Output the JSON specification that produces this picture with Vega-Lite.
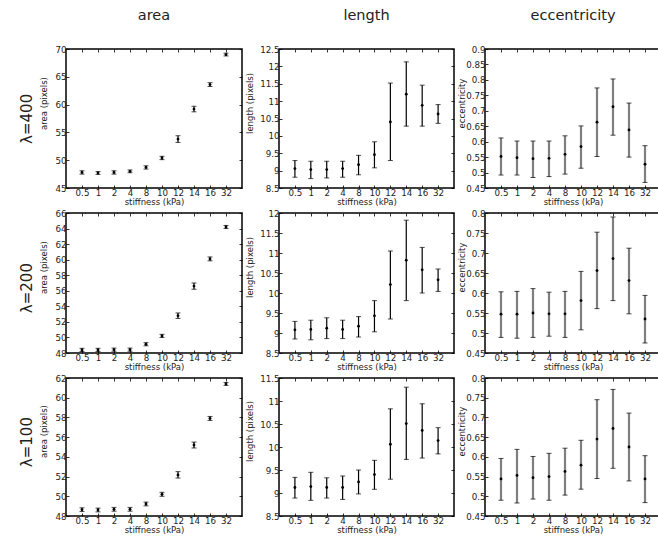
{
"$schema": "https://vega.github.io/schema/vega-lite/v6.json",
"padding": {"left": 20, "top": 6, "right": 0, "bottom": 0},
"autosize": {"type": "pad"},
"background": "white",
"config": {
  "font": "DejaVu Sans",
  "view": {"stroke": "black", "strokeWidth": 1.5},
  "axis": {"domain": false, "grid": false, "tickSize": -3, "tickColor": "black", "tickWidth": 0.8, "labelFontSize": 8.7, "labelColor": "#222", "titleFontSize": 8.5, "titleFontWeight": "normal", "titleColor": "#222", "labelOverlap": false, "labelPadding": 3, "labelAngle": 0, "format": "~g"},
  "title": {"fontWeight": "normal", "color": "#222", "font": "DejaVu Sans"},
  "concat": {"spacing": 0}
},
"datasets": {"d": [
{"l":400,"m":"area","s":"0.5","v":47.8,"lo":47.5,"hi":48.1},
{"l":400,"m":"area","s":"1","v":47.7,"lo":47.45,"hi":47.95},
{"l":400,"m":"area","s":"2","v":47.8,"lo":47.5,"hi":48.1},
{"l":400,"m":"area","s":"4","v":48.0,"lo":47.75,"hi":48.25},
{"l":400,"m":"area","s":"8","v":48.7,"lo":48.4,"hi":49.0},
{"l":400,"m":"area","s":"10","v":50.4,"lo":50.1,"hi":50.7},
{"l":400,"m":"area","s":"12","v":53.8,"lo":53.2,"hi":54.4},
{"l":400,"m":"area","s":"14","v":59.2,"lo":58.7,"hi":59.7},
{"l":400,"m":"area","s":"16","v":63.6,"lo":63.25,"hi":63.95},
{"l":400,"m":"area","s":"32","v":69.0,"lo":68.75,"hi":69.25},
{"l":400,"m":"length","s":"0.5","v":9.06,"lo":8.81,"hi":9.29},
{"l":400,"m":"length","s":"1","v":9.03,"lo":8.77,"hi":9.27},
{"l":400,"m":"length","s":"2","v":9.03,"lo":8.79,"hi":9.27},
{"l":400,"m":"length","s":"4","v":9.06,"lo":8.81,"hi":9.27},
{"l":400,"m":"length","s":"8","v":9.17,"lo":8.88,"hi":9.44},
{"l":400,"m":"length","s":"10","v":9.46,"lo":9.08,"hi":9.83},
{"l":400,"m":"length","s":"12","v":10.40,"lo":9.29,"hi":11.52},
{"l":400,"m":"length","s":"14","v":11.20,"lo":10.28,"hi":12.13},
{"l":400,"m":"length","s":"16","v":10.88,"lo":10.28,"hi":11.46},
{"l":400,"m":"length","s":"32","v":10.63,"lo":10.36,"hi":10.90},
{"l":400,"m":"ecc","s":"0.5","v":0.552,"lo":0.492,"hi":0.612},
{"l":400,"m":"ecc","s":"1","v":0.548,"lo":0.492,"hi":0.602},
{"l":400,"m":"ecc","s":"2","v":0.545,"lo":0.484,"hi":0.602},
{"l":400,"m":"ecc","s":"4","v":0.546,"lo":0.487,"hi":0.602},
{"l":400,"m":"ecc","s":"8","v":0.559,"lo":0.495,"hi":0.619},
{"l":400,"m":"ecc","s":"10","v":0.584,"lo":0.514,"hi":0.651},
{"l":400,"m":"ecc","s":"12","v":0.663,"lo":0.552,"hi":0.774},
{"l":400,"m":"ecc","s":"14","v":0.713,"lo":0.621,"hi":0.803},
{"l":400,"m":"ecc","s":"16","v":0.638,"lo":0.550,"hi":0.725},
{"l":400,"m":"ecc","s":"32","v":0.527,"lo":0.468,"hi":0.587},
{"l":200,"m":"area","s":"0.5","v":48.39,"lo":48.2,"hi":48.6},
{"l":200,"m":"area","s":"1","v":48.40,"lo":48.2,"hi":48.6},
{"l":200,"m":"area","s":"2","v":48.43,"lo":48.23,"hi":48.63},
{"l":200,"m":"area","s":"4","v":48.43,"lo":48.23,"hi":48.63},
{"l":200,"m":"area","s":"8","v":49.13,"lo":48.93,"hi":49.33},
{"l":200,"m":"area","s":"10","v":50.2,"lo":50.0,"hi":50.4},
{"l":200,"m":"area","s":"12","v":52.8,"lo":52.45,"hi":53.15},
{"l":200,"m":"area","s":"14","v":56.6,"lo":56.2,"hi":57.0},
{"l":200,"m":"area","s":"16","v":60.1,"lo":59.85,"hi":60.35},
{"l":200,"m":"area","s":"32","v":64.2,"lo":64.0,"hi":64.4},
{"l":200,"m":"length","s":"0.5","v":9.08,"lo":8.85,"hi":9.29},
{"l":200,"m":"length","s":"1","v":9.09,"lo":8.83,"hi":9.32},
{"l":200,"m":"length","s":"2","v":9.12,"lo":8.86,"hi":9.38},
{"l":200,"m":"length","s":"4","v":9.09,"lo":8.86,"hi":9.32},
{"l":200,"m":"length","s":"8","v":9.17,"lo":8.90,"hi":9.41},
{"l":200,"m":"length","s":"10","v":9.43,"lo":9.03,"hi":9.81},
{"l":200,"m":"length","s":"12","v":10.21,"lo":9.35,"hi":11.05},
{"l":200,"m":"length","s":"14","v":10.82,"lo":9.81,"hi":11.82},
{"l":200,"m":"length","s":"16","v":10.58,"lo":10.00,"hi":11.14},
{"l":200,"m":"length","s":"32","v":10.33,"lo":10.04,"hi":10.60},
{"l":200,"m":"ecc","s":"0.5","v":0.547,"lo":0.489,"hi":0.603},
{"l":200,"m":"ecc","s":"1","v":0.547,"lo":0.487,"hi":0.604},
{"l":200,"m":"ecc","s":"2","v":0.550,"lo":0.489,"hi":0.611},
{"l":200,"m":"ecc","s":"4","v":0.548,"lo":0.492,"hi":0.602},
{"l":200,"m":"ecc","s":"8","v":0.548,"lo":0.489,"hi":0.604},
{"l":200,"m":"ecc","s":"10","v":0.581,"lo":0.508,"hi":0.654},
{"l":200,"m":"ecc","s":"12","v":0.656,"lo":0.561,"hi":0.752},
{"l":200,"m":"ecc","s":"14","v":0.686,"lo":0.581,"hi":0.790},
{"l":200,"m":"ecc","s":"16","v":0.631,"lo":0.548,"hi":0.712},
{"l":200,"m":"ecc","s":"32","v":0.535,"lo":0.475,"hi":0.594},
{"l":100,"m":"area","s":"0.5","v":48.64,"lo":48.45,"hi":48.83},
{"l":100,"m":"area","s":"1","v":48.61,"lo":48.42,"hi":48.8},
{"l":100,"m":"area","s":"2","v":48.68,"lo":48.49,"hi":48.87},
{"l":100,"m":"area","s":"4","v":48.68,"lo":48.49,"hi":48.87},
{"l":100,"m":"area","s":"8","v":49.22,"lo":49.03,"hi":49.41},
{"l":100,"m":"area","s":"10","v":50.2,"lo":50.0,"hi":50.4},
{"l":100,"m":"area","s":"12","v":52.17,"lo":51.85,"hi":52.5},
{"l":100,"m":"area","s":"14","v":55.2,"lo":54.9,"hi":55.5},
{"l":100,"m":"area","s":"16","v":57.9,"lo":57.7,"hi":58.1},
{"l":100,"m":"area","s":"32","v":61.4,"lo":61.25,"hi":61.55},
{"l":100,"m":"length","s":"0.5","v":9.12,"lo":8.89,"hi":9.34},
{"l":100,"m":"length","s":"1","v":9.14,"lo":8.84,"hi":9.45},
{"l":100,"m":"length","s":"2","v":9.12,"lo":8.89,"hi":9.33},
{"l":100,"m":"length","s":"4","v":9.12,"lo":8.86,"hi":9.37},
{"l":100,"m":"length","s":"8","v":9.24,"lo":8.98,"hi":9.50},
{"l":100,"m":"length","s":"10","v":9.40,"lo":9.08,"hi":9.71},
{"l":100,"m":"length","s":"12","v":10.06,"lo":9.30,"hi":10.83},
{"l":100,"m":"length","s":"14","v":10.51,"lo":9.73,"hi":11.30},
{"l":100,"m":"length","s":"16","v":10.36,"lo":9.76,"hi":10.94},
{"l":100,"m":"length","s":"32","v":10.14,"lo":9.85,"hi":10.42},
{"l":100,"m":"ecc","s":"0.5","v":0.544,"lo":0.490,"hi":0.596},
{"l":100,"m":"ecc","s":"1","v":0.553,"lo":0.483,"hi":0.619},
{"l":100,"m":"ecc","s":"2","v":0.547,"lo":0.493,"hi":0.601},
{"l":100,"m":"ecc","s":"4","v":0.550,"lo":0.490,"hi":0.609},
{"l":100,"m":"ecc","s":"8","v":0.563,"lo":0.503,"hi":0.622},
{"l":100,"m":"ecc","s":"10","v":0.579,"lo":0.518,"hi":0.642},
{"l":100,"m":"ecc","s":"12","v":0.645,"lo":0.545,"hi":0.745},
{"l":100,"m":"ecc","s":"14","v":0.672,"lo":0.571,"hi":0.771},
{"l":100,"m":"ecc","s":"16","v":0.625,"lo":0.539,"hi":0.711},
{"l":100,"m":"ecc","s":"32","v":0.544,"lo":0.484,"hi":0.603}
]},
"data": {"name": "d"},
"spacing": 1,
"vconcat": [
{"title": {"text": "λ=400", "orient": "left", "anchor": "middle", "fontSize": 15, "offset": 3, "dx": -12},
 "hconcat": [
  {"width": 176, "height": 139, "title": {"text": "area", "fontSize": 14.5, "offset": 22, "frame": "group"},
   "transform": [{"filter": "datum.l==400 && datum.m=='area'"}],
   "layer": [
    {"mark": {"type": "rule", "color": "black", "strokeWidth": 1.2}, "encoding": {"x": {"field": "s", "type": "ordinal", "sort": ["0.5","1","2","4","8","10","12","14","16","32"], "scale": {"type": "point", "padding": 1}, "axis": {"title": "stiffness (kPa)", "titlePadding": 1}}, "y": {"field": "lo", "type": "quantitative", "scale": {"domain": [45,70], "nice": false, "zero": false}, "axis": {"title": "area (pixels)", "values": [45,50,55,60,65,70], "titleX": -23, "titleY": 54, "titleBaseline": "middle"}}, "y2": {"field": "hi"}}},
    {"mark": {"type": "tick", "color": "black", "size": 5, "thickness": 1}, "encoding": {"x": {"field": "s", "type": "ordinal", "sort": ["0.5","1","2","4","8","10","12","14","16","32"], "axis": null}, "y": {"field": "lo", "type": "quantitative", "axis": null}}},
    {"mark": {"type": "tick", "color": "black", "size": 5, "thickness": 1}, "encoding": {"x": {"field": "s", "type": "ordinal", "sort": ["0.5","1","2","4","8","10","12","14","16","32"], "axis": null}, "y": {"field": "hi", "type": "quantitative", "axis": null}}},
    {"mark": {"type": "point", "filled": true, "color": "black", "size": 8, "opacity": 1}, "encoding": {"x": {"field": "s", "type": "ordinal", "sort": ["0.5","1","2","4","8","10","12","14","16","32"], "axis": {"orient": "top", "labels": false, "title": null}}, "y": {"field": "v", "type": "quantitative", "axis": {"orient": "right", "labels": false, "title": null, "values": [45,50,55,60,65,70]}}}}
   ],
   "resolve": {"axis": {"x": "independent", "y": "independent"}}},
  {"width": 175, "height": 139, "title": {"text": "length", "fontSize": 14.5, "offset": 22, "frame": "group"},
   "transform": [{"filter": "datum.l==400 && datum.m=='length'"}],
   "layer": [
    {"mark": {"type": "rule", "color": "black", "strokeWidth": 1.2}, "encoding": {"x": {"field": "s", "type": "ordinal", "sort": ["0.5","1","2","4","8","10","12","14","16","32"], "scale": {"type": "point", "padding": 1}, "axis": {"title": "stiffness (kPa)", "titlePadding": 1}}, "y": {"field": "lo", "type": "quantitative", "scale": {"domain": [8.5,12.5], "nice": false, "zero": false}, "axis": {"title": "length (pixels)", "values": [8.5,9,9.5,10,10.5,11,11.5,12,12.5], "titleX": -30, "titleY": 54, "titleBaseline": "middle"}}, "y2": {"field": "hi"}}},
    {"mark": {"type": "tick", "color": "black", "size": 5, "thickness": 1}, "encoding": {"x": {"field": "s", "type": "ordinal", "sort": ["0.5","1","2","4","8","10","12","14","16","32"], "axis": null}, "y": {"field": "lo", "type": "quantitative", "axis": null}}},
    {"mark": {"type": "tick", "color": "black", "size": 5, "thickness": 1}, "encoding": {"x": {"field": "s", "type": "ordinal", "sort": ["0.5","1","2","4","8","10","12","14","16","32"], "axis": null}, "y": {"field": "hi", "type": "quantitative", "axis": null}}},
    {"mark": {"type": "point", "filled": true, "color": "black", "size": 8, "opacity": 1}, "encoding": {"x": {"field": "s", "type": "ordinal", "sort": ["0.5","1","2","4","8","10","12","14","16","32"], "axis": {"orient": "top", "labels": false, "title": null}}, "y": {"field": "v", "type": "quantitative", "axis": {"orient": "right", "labels": false, "title": null, "values": [8.5,9,9.5,10,10.5,11,11.5,12,12.5]}}}}
   ],
   "resolve": {"axis": {"x": "independent", "y": "independent"}}},
  {"width": 176, "height": 139, "title": {"text": "eccentricity", "fontSize": 14.5, "offset": 22, "frame": "group"},
   "transform": [{"filter": "datum.l==400 && datum.m=='ecc'"}],
   "layer": [
    {"mark": {"type": "rule", "color": "#7f7f7f", "strokeWidth": 2.2}, "encoding": {"x": {"field": "s", "type": "ordinal", "sort": ["0.5","1","2","4","8","10","12","14","16","32"], "scale": {"type": "point", "padding": 1}, "axis": {"title": "stiffness (kPa)", "titlePadding": 1}}, "y": {"field": "lo", "type": "quantitative", "scale": {"domain": [0.45,0.9], "nice": false, "zero": false}, "axis": {"title": "eccentricity", "values": [0.45,0.5,0.55,0.6,0.65,0.7,0.75,0.8,0.85,0.9], "titleX": -24, "titleY": 54, "titleBaseline": "middle"}}, "y2": {"field": "hi"}}},
    {"mark": {"type": "tick", "color": "black", "size": 5, "thickness": 1}, "encoding": {"x": {"field": "s", "type": "ordinal", "sort": ["0.5","1","2","4","8","10","12","14","16","32"], "axis": null}, "y": {"field": "lo", "type": "quantitative", "axis": null}}},
    {"mark": {"type": "tick", "color": "black", "size": 5, "thickness": 1}, "encoding": {"x": {"field": "s", "type": "ordinal", "sort": ["0.5","1","2","4","8","10","12","14","16","32"], "axis": null}, "y": {"field": "hi", "type": "quantitative", "axis": null}}},
    {"mark": {"type": "point", "filled": true, "color": "black", "size": 8, "opacity": 1}, "encoding": {"x": {"field": "s", "type": "ordinal", "sort": ["0.5","1","2","4","8","10","12","14","16","32"], "axis": {"orient": "top", "labels": false, "title": null}}, "y": {"field": "v", "type": "quantitative", "axis": {"orient": "right", "labels": false, "title": null, "values": [0.45,0.5,0.55,0.6,0.65,0.7,0.75,0.8,0.85,0.9]}}}}
   ],
   "resolve": {"axis": {"x": "independent", "y": "independent"}}}
 ]},
{"title": {"text": "λ=200", "orient": "left", "anchor": "middle", "fontSize": 15, "offset": 3, "dx": 2},
 "hconcat": [
  {"width": 176, "height": 140,
   "transform": [{"filter": "datum.l==200 && datum.m=='area'"}],
   "layer": [
    {"mark": {"type": "rule", "color": "black", "strokeWidth": 1.2}, "encoding": {"x": {"field": "s", "type": "ordinal", "sort": ["0.5","1","2","4","8","10","12","14","16","32"], "scale": {"type": "point", "padding": 1}, "axis": {"title": "stiffness (kPa)", "titlePadding": 1}}, "y": {"field": "lo", "type": "quantitative", "scale": {"domain": [48,66], "nice": false, "zero": false}, "axis": {"title": "area (pixels)", "values": [48,50,52,54,56,58,60,62,64,66], "titleX": -23, "titleY": 54, "titleBaseline": "middle"}}, "y2": {"field": "hi"}}},
    {"mark": {"type": "tick", "color": "black", "size": 5, "thickness": 1}, "encoding": {"x": {"field": "s", "type": "ordinal", "sort": ["0.5","1","2","4","8","10","12","14","16","32"], "axis": null}, "y": {"field": "lo", "type": "quantitative", "axis": null}}},
    {"mark": {"type": "tick", "color": "black", "size": 5, "thickness": 1}, "encoding": {"x": {"field": "s", "type": "ordinal", "sort": ["0.5","1","2","4","8","10","12","14","16","32"], "axis": null}, "y": {"field": "hi", "type": "quantitative", "axis": null}}},
    {"mark": {"type": "point", "filled": true, "color": "black", "size": 8, "opacity": 1}, "encoding": {"x": {"field": "s", "type": "ordinal", "sort": ["0.5","1","2","4","8","10","12","14","16","32"], "axis": {"orient": "top", "labels": false, "title": null}}, "y": {"field": "v", "type": "quantitative", "axis": {"orient": "right", "labels": false, "title": null, "values": [48,50,52,54,56,58,60,62,64,66]}}}}
   ],
   "resolve": {"axis": {"x": "independent", "y": "independent"}}},
  {"width": 175, "height": 140,
   "transform": [{"filter": "datum.l==200 && datum.m=='length'"}],
   "layer": [
    {"mark": {"type": "rule", "color": "black", "strokeWidth": 1.2}, "encoding": {"x": {"field": "s", "type": "ordinal", "sort": ["0.5","1","2","4","8","10","12","14","16","32"], "scale": {"type": "point", "padding": 1}, "axis": {"title": "stiffness (kPa)", "titlePadding": 1}}, "y": {"field": "lo", "type": "quantitative", "scale": {"domain": [8.5,12], "nice": false, "zero": false}, "axis": {"title": "length (pixels)", "values": [8.5,9,9.5,10,10.5,11,11.5,12], "titleX": -30, "titleY": 54, "titleBaseline": "middle"}}, "y2": {"field": "hi"}}},
    {"mark": {"type": "tick", "color": "black", "size": 5, "thickness": 1}, "encoding": {"x": {"field": "s", "type": "ordinal", "sort": ["0.5","1","2","4","8","10","12","14","16","32"], "axis": null}, "y": {"field": "lo", "type": "quantitative", "axis": null}}},
    {"mark": {"type": "tick", "color": "black", "size": 5, "thickness": 1}, "encoding": {"x": {"field": "s", "type": "ordinal", "sort": ["0.5","1","2","4","8","10","12","14","16","32"], "axis": null}, "y": {"field": "hi", "type": "quantitative", "axis": null}}},
    {"mark": {"type": "point", "filled": true, "color": "black", "size": 8, "opacity": 1}, "encoding": {"x": {"field": "s", "type": "ordinal", "sort": ["0.5","1","2","4","8","10","12","14","16","32"], "axis": {"orient": "top", "labels": false, "title": null}}, "y": {"field": "v", "type": "quantitative", "axis": {"orient": "right", "labels": false, "title": null, "values": [8.5,9,9.5,10,10.5,11,11.5,12]}}}}
   ],
   "resolve": {"axis": {"x": "independent", "y": "independent"}}},
  {"width": 176, "height": 140,
   "transform": [{"filter": "datum.l==200 && datum.m=='ecc'"}],
   "layer": [
    {"mark": {"type": "rule", "color": "#7f7f7f", "strokeWidth": 2.2}, "encoding": {"x": {"field": "s", "type": "ordinal", "sort": ["0.5","1","2","4","8","10","12","14","16","32"], "scale": {"type": "point", "padding": 1}, "axis": {"title": "stiffness (kPa)", "titlePadding": 1}}, "y": {"field": "lo", "type": "quantitative", "scale": {"domain": [0.45,0.8], "nice": false, "zero": false}, "axis": {"title": "eccentricity", "values": [0.45,0.5,0.55,0.6,0.65,0.7,0.75,0.8], "titleX": -24, "titleY": 54, "titleBaseline": "middle"}}, "y2": {"field": "hi"}}},
    {"mark": {"type": "tick", "color": "black", "size": 5, "thickness": 1}, "encoding": {"x": {"field": "s", "type": "ordinal", "sort": ["0.5","1","2","4","8","10","12","14","16","32"], "axis": null}, "y": {"field": "lo", "type": "quantitative", "axis": null}}},
    {"mark": {"type": "tick", "color": "black", "size": 5, "thickness": 1}, "encoding": {"x": {"field": "s", "type": "ordinal", "sort": ["0.5","1","2","4","8","10","12","14","16","32"], "axis": null}, "y": {"field": "hi", "type": "quantitative", "axis": null}}},
    {"mark": {"type": "point", "filled": true, "color": "black", "size": 8, "opacity": 1}, "encoding": {"x": {"field": "s", "type": "ordinal", "sort": ["0.5","1","2","4","8","10","12","14","16","32"], "axis": {"orient": "top", "labels": false, "title": null}}, "y": {"field": "v", "type": "quantitative", "axis": {"orient": "right", "labels": false, "title": null, "values": [0.45,0.5,0.55,0.6,0.65,0.7,0.75,0.8]}}}}
   ],
   "resolve": {"axis": {"x": "independent", "y": "independent"}}}
 ]},
{"title": {"text": "λ=100", "orient": "left", "anchor": "middle", "fontSize": 15, "offset": 3, "dx": 12},
 "hconcat": [
  {"width": 176, "height": 138,
   "transform": [{"filter": "datum.l==100 && datum.m=='area'"}],
   "layer": [
    {"mark": {"type": "rule", "color": "black", "strokeWidth": 1.2}, "encoding": {"x": {"field": "s", "type": "ordinal", "sort": ["0.5","1","2","4","8","10","12","14","16","32"], "scale": {"type": "point", "padding": 1}, "axis": {"title": "stiffness (kPa)", "titlePadding": 1}}, "y": {"field": "lo", "type": "quantitative", "scale": {"domain": [48,62], "nice": false, "zero": false}, "axis": {"title": "area (pixels)", "values": [48,50,52,54,56,58,60,62], "titleX": -23, "titleY": 53, "titleBaseline": "middle"}}, "y2": {"field": "hi"}}},
    {"mark": {"type": "tick", "color": "black", "size": 5, "thickness": 1}, "encoding": {"x": {"field": "s", "type": "ordinal", "sort": ["0.5","1","2","4","8","10","12","14","16","32"], "axis": null}, "y": {"field": "lo", "type": "quantitative", "axis": null}}},
    {"mark": {"type": "tick", "color": "black", "size": 5, "thickness": 1}, "encoding": {"x": {"field": "s", "type": "ordinal", "sort": ["0.5","1","2","4","8","10","12","14","16","32"], "axis": null}, "y": {"field": "hi", "type": "quantitative", "axis": null}}},
    {"mark": {"type": "point", "filled": true, "color": "black", "size": 8, "opacity": 1}, "encoding": {"x": {"field": "s", "type": "ordinal", "sort": ["0.5","1","2","4","8","10","12","14","16","32"], "axis": {"orient": "top", "labels": false, "title": null}}, "y": {"field": "v", "type": "quantitative", "axis": {"orient": "right", "labels": false, "title": null, "values": [48,50,52,54,56,58,60,62]}}}}
   ],
   "resolve": {"axis": {"x": "independent", "y": "independent"}}},
  {"width": 175, "height": 138,
   "transform": [{"filter": "datum.l==100 && datum.m=='length'"}],
   "layer": [
    {"mark": {"type": "rule", "color": "black", "strokeWidth": 1.2}, "encoding": {"x": {"field": "s", "type": "ordinal", "sort": ["0.5","1","2","4","8","10","12","14","16","32"], "scale": {"type": "point", "padding": 1}, "axis": {"title": "stiffness (kPa)", "titlePadding": 1}}, "y": {"field": "lo", "type": "quantitative", "scale": {"domain": [8.5,11.5], "nice": false, "zero": false}, "axis": {"title": "length (pixels)", "values": [8.5,9,9.5,10,10.5,11,11.5], "titleX": -30, "titleY": 53, "titleBaseline": "middle"}}, "y2": {"field": "hi"}}},
    {"mark": {"type": "tick", "color": "black", "size": 5, "thickness": 1}, "encoding": {"x": {"field": "s", "type": "ordinal", "sort": ["0.5","1","2","4","8","10","12","14","16","32"], "axis": null}, "y": {"field": "lo", "type": "quantitative", "axis": null}}},
    {"mark": {"type": "tick", "color": "black", "size": 5, "thickness": 1}, "encoding": {"x": {"field": "s", "type": "ordinal", "sort": ["0.5","1","2","4","8","10","12","14","16","32"], "axis": null}, "y": {"field": "hi", "type": "quantitative", "axis": null}}},
    {"mark": {"type": "point", "filled": true, "color": "black", "size": 8, "opacity": 1}, "encoding": {"x": {"field": "s", "type": "ordinal", "sort": ["0.5","1","2","4","8","10","12","14","16","32"], "axis": {"orient": "top", "labels": false, "title": null}}, "y": {"field": "v", "type": "quantitative", "axis": {"orient": "right", "labels": false, "title": null, "values": [8.5,9,9.5,10,10.5,11,11.5]}}}}
   ],
   "resolve": {"axis": {"x": "independent", "y": "independent"}}},
  {"width": 176, "height": 138,
   "transform": [{"filter": "datum.l==100 && datum.m=='ecc'"}],
   "layer": [
    {"mark": {"type": "rule", "color": "#7f7f7f", "strokeWidth": 2.2}, "encoding": {"x": {"field": "s", "type": "ordinal", "sort": ["0.5","1","2","4","8","10","12","14","16","32"], "scale": {"type": "point", "padding": 1}, "axis": {"title": "stiffness (kPa)", "titlePadding": 1}}, "y": {"field": "lo", "type": "quantitative", "scale": {"domain": [0.45,0.8], "nice": false, "zero": false}, "axis": {"title": "eccentricity", "values": [0.45,0.5,0.55,0.6,0.65,0.7,0.75,0.8], "titleX": -24, "titleY": 53, "titleBaseline": "middle"}}, "y2": {"field": "hi"}}},
    {"mark": {"type": "tick", "color": "black", "size": 5, "thickness": 1}, "encoding": {"x": {"field": "s", "type": "ordinal", "sort": ["0.5","1","2","4","8","10","12","14","16","32"], "axis": null}, "y": {"field": "lo", "type": "quantitative", "axis": null}}},
    {"mark": {"type": "tick", "color": "black", "size": 5, "thickness": 1}, "encoding": {"x": {"field": "s", "type": "ordinal", "sort": ["0.5","1","2","4","8","10","12","14","16","32"], "axis": null}, "y": {"field": "hi", "type": "quantitative", "axis": null}}},
    {"mark": {"type": "point", "filled": true, "color": "black", "size": 8, "opacity": 1}, "encoding": {"x": {"field": "s", "type": "ordinal", "sort": ["0.5","1","2","4","8","10","12","14","16","32"], "axis": {"orient": "top", "labels": false, "title": null}}, "y": {"field": "v", "type": "quantitative", "axis": {"orient": "right", "labels": false, "title": null, "values": [0.45,0.5,0.55,0.6,0.65,0.7,0.75,0.8]}}}}
   ],
   "resolve": {"axis": {"x": "independent", "y": "independent"}}}
 ]}
]
}
